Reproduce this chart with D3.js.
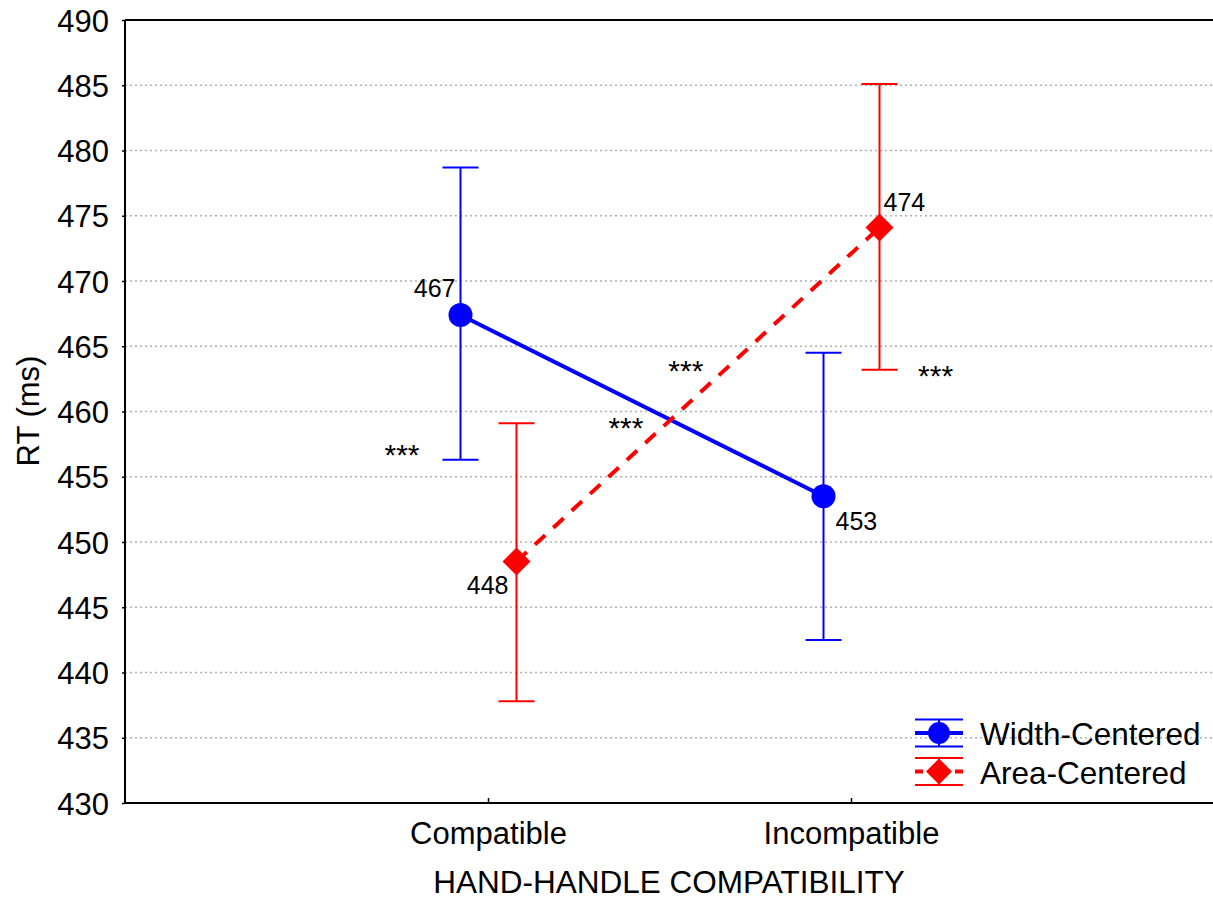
<!DOCTYPE html>
<html><head><meta charset="utf-8">
<script src="https://cdn.jsdelivr.net/npm/d3@7"></script>
<style>body{margin:0;background:#fff}svg{display:block}text{font-family:"Liberation Sans",Arial,sans-serif}</style>
</head><body><svg id="c" width="1213" height="899"></svg>
<script>
const categories = ["Compatible", "Incompatible"];
const seriesNames = ["Width-Centered", "Area-Centered"];
const widthMean = [467.4, 453.5];
const widthLow = [456.3, 442.5];
const widthHigh = [478.7, 464.5];
const areaMean = [448.5, 474.1];
const areaLow = [437.8, 463.2];
const areaHigh = [459.1, 485.1];
const pointLabels = [["467", "453"], ["448", "474"]];
const yTicks = [430, 435, 440, 445, 450, 455, 460, 465, 470, 475, 480, 485, 490];
const stars = [{cat: -0.237, v: 456.9}, {cat: 0.380, v: 458.95}, {cat: 0.545, v: 463.3}, {cat: 1.233, v: 462.95}];

const svg = d3.select("#c");
const L = 125, R = 1213, T = 20, B = 803;
const y = d3.scaleLinear().domain([430, 490]).range([B, T]);
const x = d3.scalePoint().domain(categories).range([488, 851]);
const xc = d3.scaleLinear().domain([0, 1]).range([488, 851]);
const off = [-27.5, 28.5];

// grid
svg.append("g").selectAll("line").data(yTicks.filter(d => d > 430 && d < 490)).join("line")
  .attr("x1", L).attr("x2", R).attr("y1", d => y(d)).attr("y2", d => y(d))
  .attr("stroke", "#b0b0b0").attr("stroke-width", 1.5).attr("stroke-dasharray", "2,3");

// frame top
svg.append("line").attr("x1", L).attr("x2", R).attr("y1", T).attr("y2", T).attr("stroke", "#000").attr("stroke-width", 2);

// y axis
const ya = svg.append("g").attr("transform", `translate(${L},0)`)
  .call(d3.axisLeft(y).tickValues(yTicks).tickSize(3).tickPadding(13));
ya.select(".domain").attr("stroke-width", 2).attr("d", `M0,${T}V${B}`);
ya.selectAll(".tick line").attr("stroke-width", 1.5);
ya.selectAll("text").attr("font-size", 31).attr("fill", "#000").attr("dy", "0.36em");

// x axis
const xa = svg.append("g").attr("transform", `translate(0,${B})`)
  .call(d3.axisBottom(x).tickSize(-5).tickPadding(19));
xa.select(".domain").attr("stroke-width", 2).attr("d", `M${L},0H${R}`);
xa.selectAll(".tick line").attr("stroke-width", 1.5);
xa.selectAll("text").attr("font-size", 31).attr("fill", "#000");

svg.append("text").attr("x", 669).attr("y", 893).attr("text-anchor", "middle").attr("font-size", 31.5).text("HAND-HANDLE COMPATIBILITY");
svg.append("text").attr("transform", "translate(39,411) rotate(-90)").attr("text-anchor", "middle").attr("font-size", 31).text("RT (ms)");

const series = [
  {mean: widthMean, lo: widthLow, hi: widthHigh, color: "#0000ff", dash: null, shape: "circle"},
  {mean: areaMean, lo: areaLow, hi: areaHigh, color: "#ff0000", dash: "14,11", shape: "diamond"}
];
const cap = 18;
series.forEach((s, si) => {
  const g = svg.append("g");
  const px = i => x(categories[i]) + off[si];
  categories.forEach((c, i) => {
    g.append("line").attr("x1", px(i)).attr("x2", px(i)).attr("y1", y(s.lo[i])).attr("y2", y(s.hi[i])).attr("stroke", s.color).attr("stroke-width", 2);
    [s.lo[i], s.hi[i]].forEach(v => g.append("line").attr("x1", px(i) - cap).attr("x2", px(i) + cap).attr("y1", y(v)).attr("y2", y(v)).attr("stroke", s.color).attr("stroke-width", 2));
  });
  g.append("path").attr("d", d3.line().x((d, i) => px(i)).y(d => y(d))(s.mean))
    .attr("fill", "none").attr("stroke", s.color).attr("stroke-width", 4).attr("stroke-dasharray", s.dash);
  s.mean.forEach((v, i) => {
    if (s.shape === "circle") g.append("circle").attr("cx", px(i)).attr("cy", y(v)).attr("r", 12).attr("fill", s.color);
    else g.append("path").attr("transform", `translate(${px(i)},${y(v)})`).attr("d", "M0,-14L14,0L0,14L-14,0Z").attr("fill", s.color);
  });
});

// point labels
const lab = [
  {t: pointLabels[0][0], x: x(categories[0]) + off[0] - 5, y: y(widthMean[0]) - 18, a: "end"},
  {t: pointLabels[0][1], x: x(categories[1]) + off[0] + 12, y: y(widthMean[1]) + 34, a: "start"},
  {t: pointLabels[1][0], x: x(categories[0]) + off[1] - 8, y: y(areaMean[0]) + 32, a: "end"},
  {t: pointLabels[1][1], x: x(categories[1]) + off[1] + 4, y: y(areaMean[1]) - 16, a: "start"}
];
svg.append("g").selectAll("text").data(lab).join("text").attr("x", d => d.x).attr("y", d => d.y)
  .attr("text-anchor", d => d.a).attr("font-size", 25).text(d => d.t);

// stars
svg.append("g").selectAll("text").data(stars).join("text")
  .attr("x", d => xc(d.cat)).attr("y", d => y(d.v) + 13).attr("text-anchor", "middle")
  .attr("font-size", 30).text("***");

// legend
const lg = svg.append("g");
[0, 1].forEach(i => {
  const s = series[i], cy = 733 + i * 38.5;
  lg.append("line").attr("x1", 915).attr("x2", 963).attr("y1", cy).attr("y2", cy).attr("stroke", s.color).attr("stroke-width", 4).attr("stroke-dasharray", i ? "8,8,16,8,16" : null);
  [cy - 13.5, cy + 13.5].forEach(yy => lg.append("line").attr("x1", 915).attr("x2", 963).attr("y1", yy).attr("y2", yy).attr("stroke", s.color).attr("stroke-width", 2));
  lg.append("line").attr("x1", 939).attr("x2", 939).attr("y1", cy - 13.5).attr("y2", cy + 13.5).attr("stroke", s.color).attr("stroke-width", 2);
  if (i === 0) lg.append("circle").attr("cx", 939).attr("cy", cy).attr("r", 11).attr("fill", s.color);
  else lg.append("path").attr("transform", `translate(939,${cy})`).attr("d", "M0,-13L13,0L0,13L-13,0Z").attr("fill", s.color);
  lg.append("text").attr("x", 980).attr("y", cy + 12).attr("font-size", 31.5).text(seriesNames[i]);
});
</script></body></html>
